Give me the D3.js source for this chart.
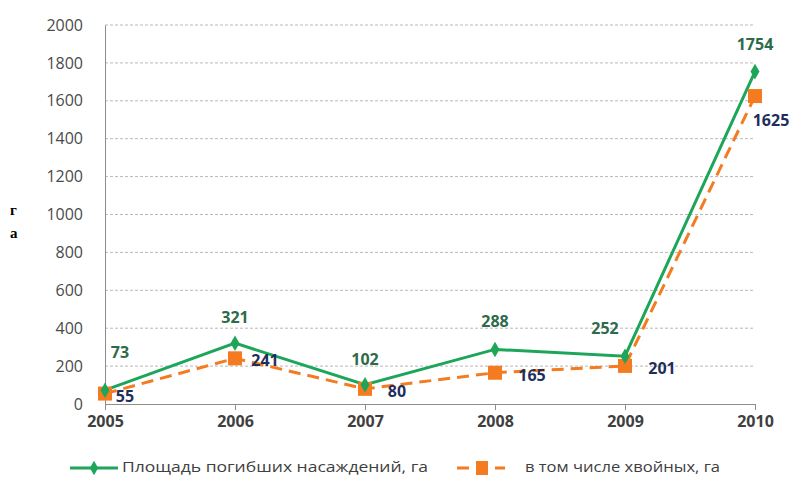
<!DOCTYPE html>
<html>
<head>
<meta charset="utf-8">
<script src="https://cdn.jsdelivr.net/npm/d3@7"></script>
<style>
  body { margin: 0; background: #fff; }
  text { font-family: "Open Sans", sans-serif; }
</style>
</head>
<body>
<svg width="790" height="477"></svg>
<script>
const years = ["2005", "2006", "2007", "2008", "2009", "2010"];
const totalArea = [73, 321, 102, 288, 252, 1754];
const conifArea = [55, 241, 80, 165, 201, 1625];
const yTicks = [0, 200, 400, 600, 800, 1000, 1200, 1400, 1600, 1800, 2000];
const seriesNames = ["Площадь погибших насаждений, га", "в том числе хвойных, га"];

const green = "#1da65a";
const orange = "#f47b20";

let svg = d3.select("svg");

let x = d3.scalePoint().domain(years).range([105, 755]);
let y = d3.scaleLinear().domain([0, 2000]).range([404, 25]);

// grid
svg.append("g")
  .selectAll("line")
  .data(yTicks.slice(1))
  .enter().append("line")
    .attr("x1", 105).attr("x2", 755)
    .attr("y1", d => y(d)).attr("y2", d => y(d))
    .attr("stroke", "#b8b8b8")
    .attr("stroke-dasharray", "3,2")
    .attr("stroke-width", 1);

// y axis
let yAxis = svg.append("g")
  .attr("transform", "translate(105,0)")
  .call(d3.axisLeft(y).tickValues(yTicks).tickFormat(d3.format("d")).tickSize(0).tickPadding(22));
yAxis.select(".domain").attr("stroke", "#8c8c8c");
yAxis.selectAll("text").attr("font-size", 16).attr("fill", "#4a4a4a");

// x axis
let xAxis = svg.append("g")
  .attr("transform", "translate(0,404)")
  .call(d3.axisBottom(x).tickSize(6).tickPadding(6).tickSizeOuter(0));
xAxis.select(".domain").attr("stroke", "#8c8c8c");
xAxis.selectAll(".tick line").attr("stroke", "#8c8c8c");
xAxis.selectAll("text").attr("font-size", 16).attr("font-weight", "bold").attr("fill", "#404040");

// y label
svg.append("text").attr("x", 10).attr("y", 215).text("г")
  .style("font-family", "'Liberation Serif', serif").attr("font-weight", "bold").attr("font-size", 15);
svg.append("text").attr("x", 10).attr("y", 238).text("а")
  .style("font-family", "'Liberation Serif', serif").attr("font-weight", "bold").attr("font-size", 15);

let line = d3.line().x((d, i) => x(years[i])).y(d => y(d));

// orange dashed
svg.append("path")
  .datum(conifArea)
  .attr("d", line)
  .attr("fill", "none")
  .attr("stroke", orange)
  .attr("stroke-width", 3)
  .attr("stroke-dasharray", "12,7");

// green solid
svg.append("path")
  .datum(totalArea)
  .attr("d", line)
  .attr("fill", "none")
  .attr("stroke", green)
  .attr("stroke-width", 3);

svg.selectAll(".sq")
  .data(conifArea)
  .enter().append("rect")
    .attr("x", (d, i) => x(years[i]) - 7)
    .attr("y", d => y(d) - 7)
    .attr("width", 14).attr("height", 14)
    .attr("fill", orange);

svg.selectAll(".dia")
  .data(totalArea)
  .enter().append("path")
    .attr("d", d3.symbol().type(d3.symbolDiamond).size(70))
    .attr("transform", (d, i) => "translate(" + x(years[i]) + "," + y(d) + ")")
    .attr("fill", green);

// labels
const totalOffs = [[15, -32], [0, -20], [0, -20], [0, -22], [-20, -22], [0, -22]];
const conifOffs = [[20, 8], [30, 8], [32, 8], [37, 8], [37, 8], [16, 30]];

svg.selectAll(".lt")
  .data(totalArea)
  .enter().append("text")
    .attr("x", (d, i) => x(years[i]) + totalOffs[i][0])
    .attr("y", (d, i) => y(d) + totalOffs[i][1])
    .attr("text-anchor", "middle")
    .attr("font-size", 16).attr("font-weight", "bold")
    .attr("fill", "#2e6b4a")
    .text(d => d);

svg.selectAll(".lc")
  .data(conifArea)
  .enter().append("text")
    .attr("x", (d, i) => x(years[i]) + conifOffs[i][0])
    .attr("y", (d, i) => y(d) + conifOffs[i][1])
    .attr("text-anchor", "middle")
    .attr("font-size", 16).attr("font-weight", "bold")
    .attr("fill", "#1f2f5c")
    .text(d => d);

// legend
let lg = svg.append("g");
lg.append("line").attr("x1", 70).attr("x2", 118).attr("y1", 468).attr("y2", 468)
  .attr("stroke", green).attr("stroke-width", 3);
lg.append("path").attr("d", d3.symbol().type(d3.symbolDiamond).size(60))
  .attr("transform", "translate(94,468)").attr("fill", green);
lg.append("text").attr("x", 122).attr("y", 472).attr("font-size", 15).attr("fill", "#404040")
  .attr("textLength", 306).attr("lengthAdjust", "spacingAndGlyphs")
  .text(seriesNames[0]);

lg.append("line").attr("x1", 457).attr("x2", 505).attr("y1", 468).attr("y2", 468)
  .attr("stroke", orange).attr("stroke-width", 3).attr("stroke-dasharray", "12,7");
lg.append("rect").attr("x", 476).attr("y", 461).attr("width", 12).attr("height", 14).attr("fill", orange);
lg.append("text").attr("x", 525).attr("y", 472).attr("font-size", 15).attr("fill", "#404040")
  .attr("textLength", 195).attr("lengthAdjust", "spacingAndGlyphs")
  .text(seriesNames[1]);
</script>
</body>
</html>
